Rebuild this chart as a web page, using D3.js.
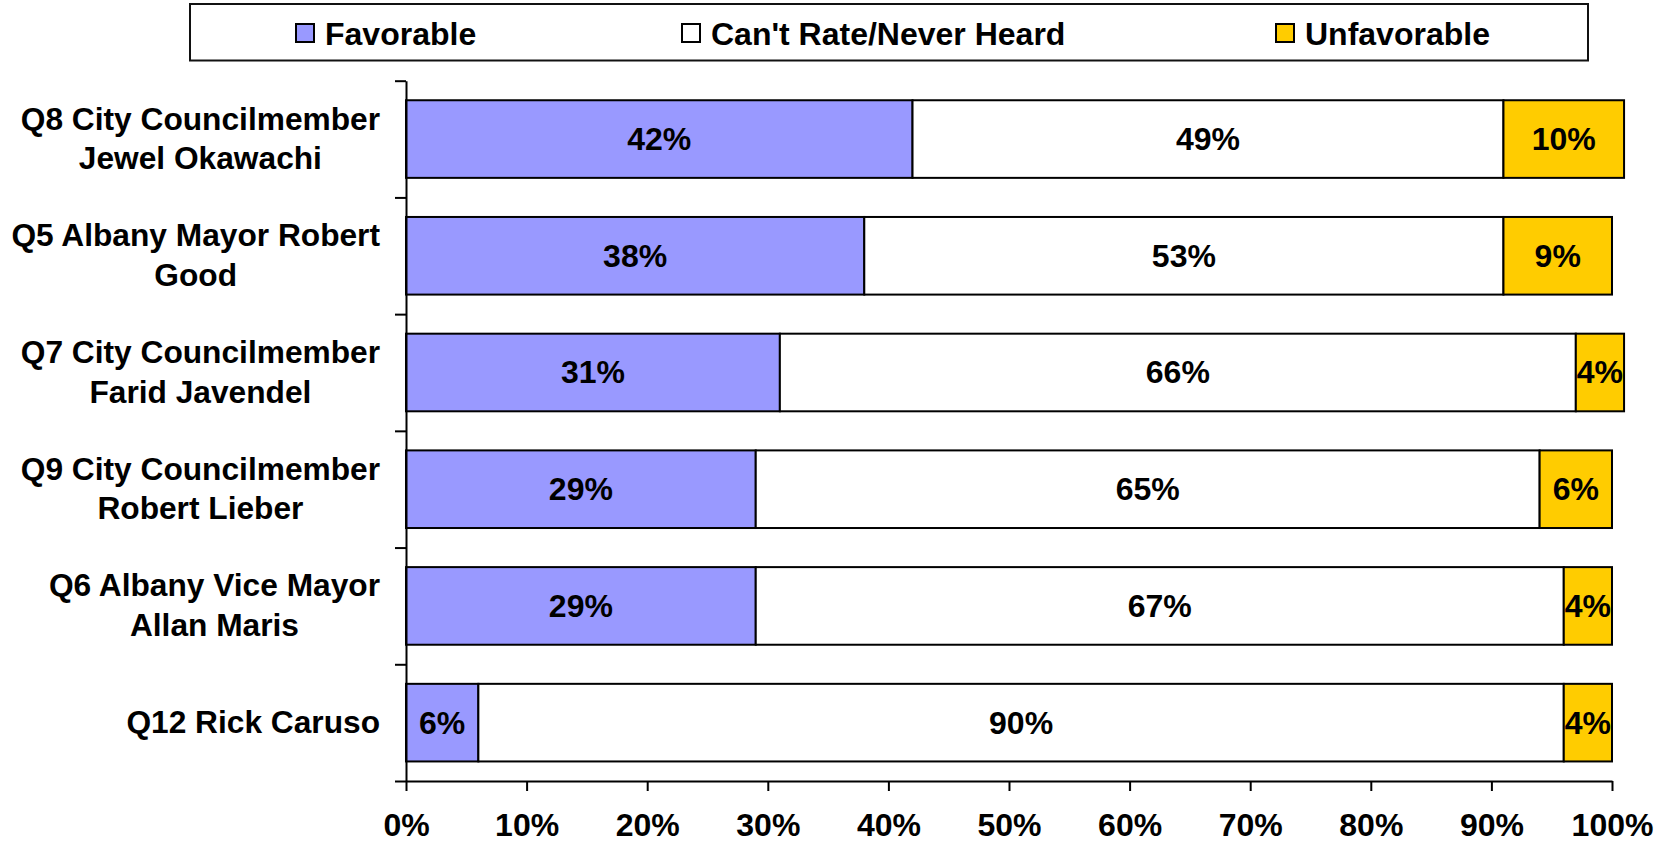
<!DOCTYPE html>
<html>
<head>
<meta charset="utf-8">
<script src="https://cdn.jsdelivr.net/npm/d3@7"></script>
<style>
  html, body { margin: 0; padding: 0; background: #fff; }
  svg { display: block; }
  text { font-family: "Liberation Sans", Arial, sans-serif; font-weight: bold; fill: #000; }
</style>
</head>
<body>
<svg id="chart" width="1669" height="844"></svg>
<script>
// Candidate rows, top to bottom; "|" splits a label onto two lines
const categories = [
  "Q8 City Councilmember|Jewel Okawachi",
  "Q5 Albany Mayor Robert|Good",
  "Q7 City Councilmember|Farid Javendel",
  "Q9 City Councilmember|Robert Lieber",
  "Q6 Albany Vice Mayor|Allan Maris",
  "Q12 Rick Caruso"
];
const favorable   = [42, 38, 31, 29, 29, 6];
const cantRate    = [49, 53, 66, 65, 67, 90];
const unfavorable = [10, 9, 4, 6, 4, 4];

const seriesNames = ["Favorable", "Can't Rate/Never Heard", "Unfavorable"];
const seriesKeys = ["fav", "cant", "unfav"];
const seriesColors = ["#9999FF", "#FFFFFF", "#FFCC00"];
const tickValues = [0, 10, 20, 30, 40, 50, 60, 70, 80, 90, 100];

const rows = categories.map((c, i) => ({
  cat: c, fav: favorable[i], cant: cantRate[i], unfav: unfavorable[i]
}));

const svg = d3.select("#chart");

const x = d3.scaleLinear().domain([0, 100]).range([406, 1612]);
const y = d3.scaleBand().domain(categories).range([80.7, 781])
  .paddingInner(0.335).paddingOuter(0.1675);
const color = d3.scaleOrdinal().domain(seriesKeys).range(seriesColors);

const stacked = d3.stack().keys(seriesKeys)(rows);

// Stacked bar segments
const layers = svg.append("g").selectAll("g")
  .data(stacked).join("g")
  .attr("fill", d => color(d.key));

layers.selectAll("rect")
  .data(d => d.map(p => ({ p, key: d.key })))
  .join("rect")
  .attr("x", d => x(d.p[0]))
  .attr("y", d => y(d.p.data.cat))
  .attr("width", d => x(d.p[1]) - x(d.p[0]))
  .attr("height", y.bandwidth())
  .attr("stroke", "#000")
  .attr("stroke-width", 2);

// Value labels centred in each segment
layers.selectAll("text")
  .data(d => d.map(p => ({ p, key: d.key })))
  .join("text")
  .attr("x", d => (x(d.p[0]) + x(d.p[1])) / 2)
  .attr("y", d => y(d.p.data.cat) + y.bandwidth() / 2)
  .attr("dy", "0.34em")
  .attr("text-anchor", "middle")
  .style("font-size", "32px")
  .text(d => (d.p[1] - d.p[0]) + "%");

// Bottom axis
const xAxis = d3.axisBottom(x)
  .tickValues(tickValues)
  .tickFormat(d => d + "%")
  .tickSize(10)
  .tickSizeOuter(0)
  .tickPadding(22);
const gx = svg.append("g").attr("transform", "translate(0,781)").call(xAxis);
gx.select(".domain").attr("stroke", "#000").attr("stroke-width", 2);
gx.selectAll(".tick line").attr("stroke", "#000").attr("stroke-width", 2);
gx.selectAll(".tick text")
  .style("font-size", "32px")
  .attr("font-family", null)
  .attr("fill", "#000");

// Left axis: ticks on the row boundaries
const yEdge = d3.scaleLinear().domain([0, categories.length]).range([80.7, 781]);
const yAxis = d3.axisLeft(yEdge)
  .tickValues(d3.range(categories.length + 1))
  .tickFormat("")
  .tickSize(11)
  .tickSizeOuter(0);
const gy = svg.append("g").attr("transform", "translate(406,0)").call(yAxis);
gy.select(".domain").attr("stroke", "#000").attr("stroke-width", 2);
gy.selectAll(".tick line").attr("stroke", "#000").attr("stroke-width", 2);

// Category labels: lines centred on each other, block right-aligned to the axis
const labelRight = 380;
const lineGap = 39.5;
categories.forEach(c => {
  const lines = c.split("|");
  const cy = y(c) + y.bandwidth() / 2;
  const g = svg.append("g");
  const texts = lines.map((ln, i) => g.append("text")
    .attr("y", cy + (i - (lines.length - 1) / 2) * lineGap - 0.5)
    .attr("dy", "0.34em")
    .attr("text-anchor", "middle")
    .style("font-size", "31.7px")
    .text(ln));
  const w = d3.max(texts, t => t.node().getComputedTextLength());
  texts.forEach(t => t.attr("x", labelRight - w / 2));
});

// Legend
const legend = svg.append("g");
legend.append("rect")
  .attr("x", 190).attr("y", 4)
  .attr("width", 1398).attr("height", 56.5)
  .attr("fill", "#fff").attr("stroke", "#111").attr("stroke-width", 2);
const legendX = [296, 682, 1276];
seriesKeys.forEach((k, i) => {
  legend.append("rect")
    .attr("x", legendX[i]).attr("y", 24)
    .attr("width", 18).attr("height", 18)
    .attr("fill", color(k)).attr("stroke", "#000").attr("stroke-width", 2);
  legend.append("text")
    .attr("x", legendX[i] + 29).attr("y", 34)
    .attr("dy", "0.34em")
    .style("font-size", "32px")
    .text(seriesNames[i]);
});
</script>
</body>
</html>
